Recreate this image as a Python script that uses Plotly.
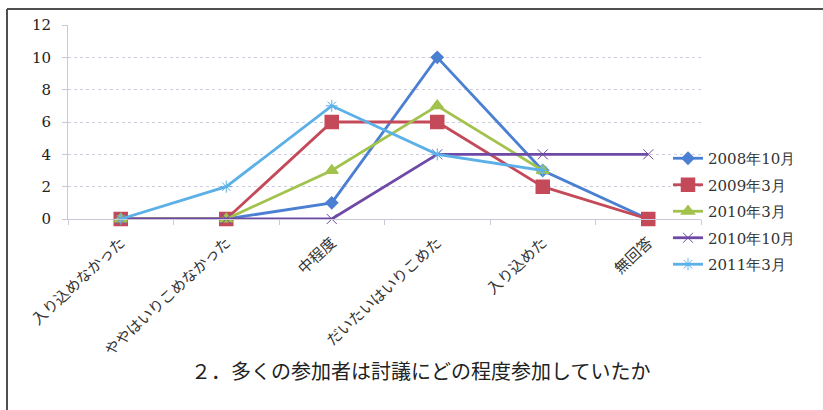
import plotly.graph_objects as go

# Survey answers: how far participants took part in the discussion
categories = ["入り込めなかった", "ややはいりこめなかった", "中程度",
              "だいたいはいりこめた", "入り込めた", "無回答"]

series_names = ["2008年10月", "2009年3月", "2010年3月", "2010年10月", "2011年3月"]
s2008_10 = [0, 0, 1, 10, 3, 0]
s2009_03 = [0, 0, 6, 6, 2, 0]
s2010_03 = [0, 0, 3, 7, 3, None]
s2010_10 = [0, 0, 0, 4, 4, 4]
s2011_03 = [0, 2, 7, 4, 3, None]
series_values = [s2008_10, s2009_03, s2010_03, s2010_10, s2011_03]

y_ticks = [0, 2, 4, 6, 8, 10, 12]
title_text = "２．多くの参加者は討議にどの程度参加していたか"

colors = ["#4a7fd2", "#c44a5a", "#a2c24e", "#6e4aa6", "#5cb0e8"]
symbols = ["diamond", "square", "triangle-up", "x-thin-open", "asterisk-open"]
msizes = [9, 13, 11, 10, 10]
mlines = [1.5, 1.5, 1.5, 1, 1]

JP = "Noto Sans CJK JP"
SERIF = "DejaVu Serif"

fig = go.Figure()
for i, (name, vals) in enumerate(zip(series_names, series_values)):
    fig.add_trace(go.Scatter(
        x=categories, y=vals, name=name, mode="lines+markers",
        line=dict(color=colors[i], width=2.8),
        marker=dict(symbol=symbols[i], size=msizes[i], color=colors[i],
                    line=dict(color=colors[i], width=mlines[i])),
        cliponaxis=False, legendgroup=name,
    ))

# Plot-area geometry in pixels, used to place the frame lines
L, R, T, B = 68, 701, 25, 219
W, H = R - L, B - T


def px_x(p):
    return (p - L) / W


def px_y(p):
    return (B - p) / H


frame = dict(color="#505050", width=2)
fig.add_shape(type="line", xref="paper", yref="paper",
              x0=px_x(7), x1=px_x(823), y0=px_y(9), y1=px_y(9), line=frame)
fig.add_shape(type="line", xref="paper", yref="paper",
              x0=px_x(7), x1=px_x(7), y0=px_y(9), y1=px_y(412), line=frame)

fig.add_annotation(text=title_text, xref="paper", yref="paper",
                   x=px_x(420), y=px_y(370), xanchor="center", yanchor="middle",
                   showarrow=False,
                   font=dict(family=JP, size=20, color="#222"))

fig.update_layout(
    width=823, height=410,
    margin=dict(l=L, r=823 - R, t=T, b=410 - B),
    paper_bgcolor="white", plot_bgcolor="white",
    showlegend=True,
    legend=dict(x=px_x(668), y=px_y(142), xanchor="left", yanchor="top",
                font=dict(family=SERIF, size=15, color="#333"),
                tracegroupgap=4, traceorder="grouped",
                bgcolor="rgba(0,0,0,0)"),
    xaxis=dict(type="category", range=[-0.5, 5.5],
               showgrid=False, showline=True, linecolor="#c8c8d8", linewidth=1,
               ticks="outside", tickson="boundaries", ticklen=5, tickcolor="#c8c8d8",
               tickangle=-43, ticklabelstandoff=8,
               tickfont=dict(family=JP, size=15, color="#333")),
    yaxis=dict(range=[0, 12], tickvals=y_ticks, ticktext=[str(v) for v in y_ticks],
               showgrid=True, gridcolor="#cfcfe0", griddash="dot", gridwidth=1,
               showline=True, linecolor="#c8c8d8", linewidth=1,
               ticks="outside", ticklen=5, tickcolor="#c8c8d8",
               ticklabelstandoff=8, zeroline=False,
               tickfont=dict(family=SERIF, size=15, color="#222")),
)

fig.write_html("out.html")
